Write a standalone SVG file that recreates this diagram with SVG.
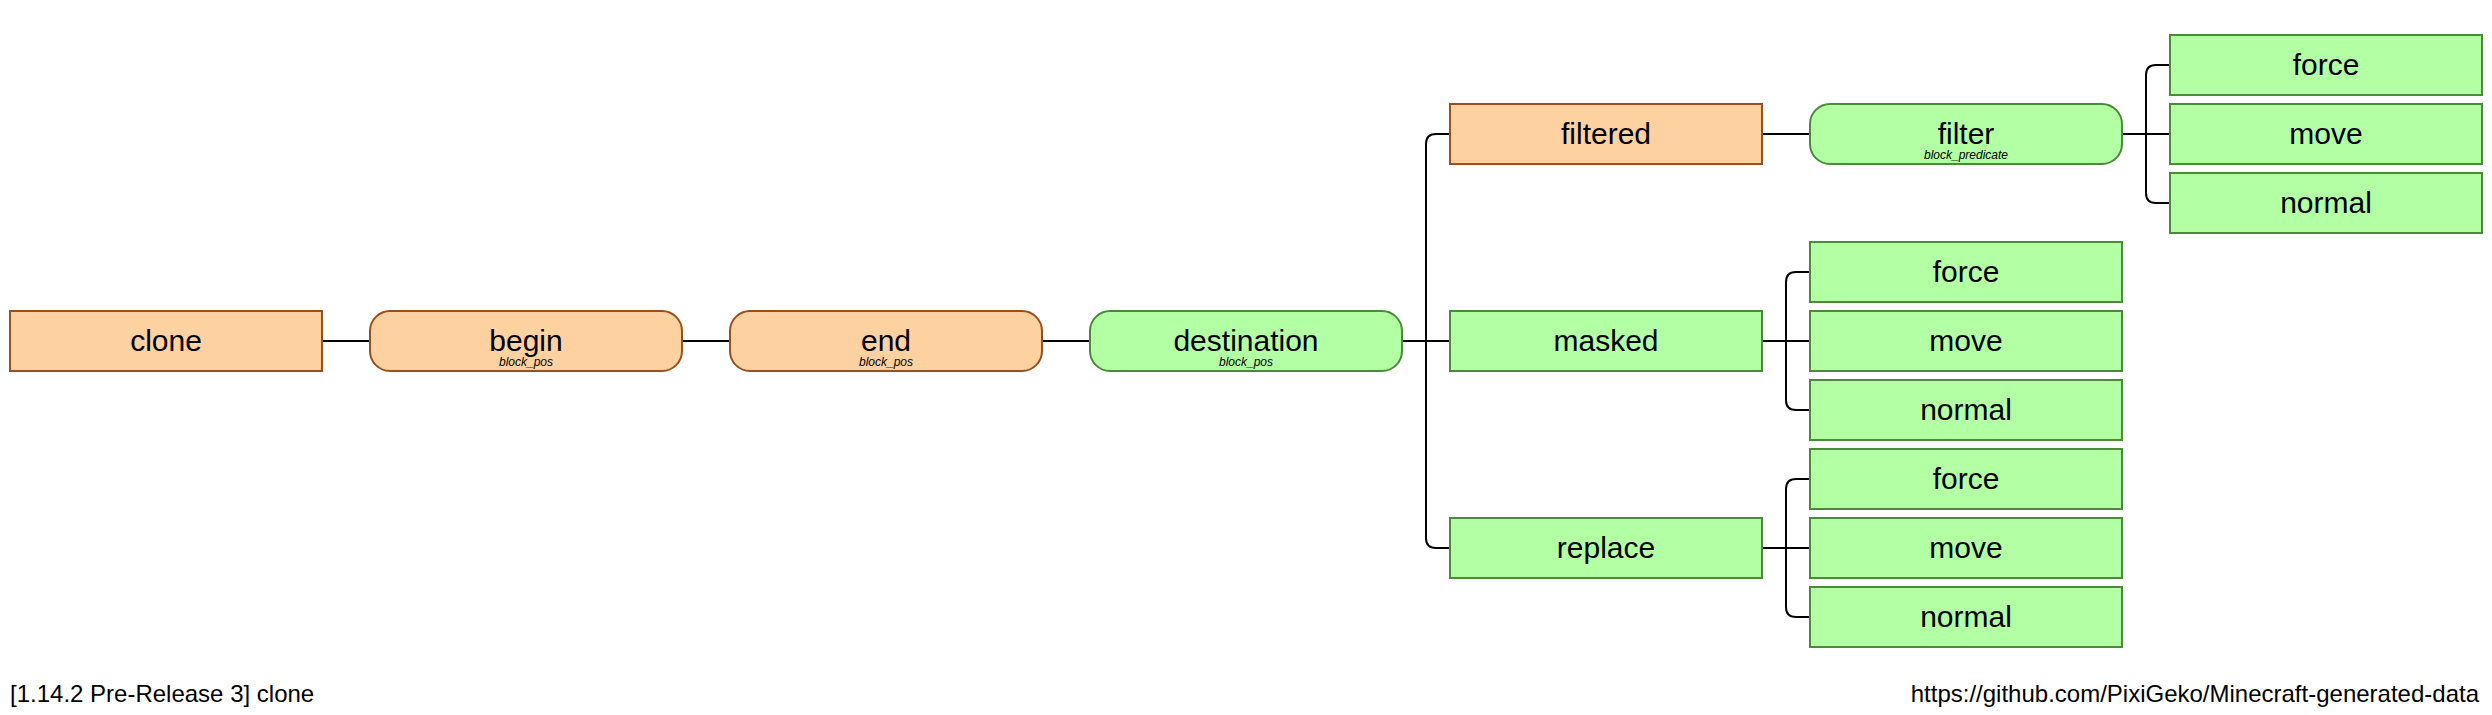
<svg xmlns="http://www.w3.org/2000/svg" width="2492" height="715" viewBox="0 0 2492 715">
<style>
.o{fill:#FED1A0;stroke:#9A4F1C;stroke-width:2}
.g{fill:#B3FFA4;stroke:#4B8A3B;stroke-width:2}
.t{font-family:"Liberation Sans",Arial,sans-serif;font-size:30px;fill:#000;text-anchor:middle}
.s{font-family:"Liberation Sans",Arial,sans-serif;font-size:12px;font-style:italic;fill:#000;text-anchor:middle}
.f{font-family:"Liberation Sans",Arial,sans-serif;font-size:24px;fill:#000}
.c{fill:none;stroke:#000;stroke-width:2}
</style>
<rect width="2492" height="715" fill="#fff"/>
<g id="connectors">
<path class="c" d="M322 341H370M682 341H730M1042 341H1090M1402 341H1450"/>
<path class="c" d="M1450 134H1436Q1426 134 1426 144V538Q1426 548 1436 548H1450"/>
<path class="c" d="M1762 134H1810"/>
<path class="c" d="M2122 134H2170M2170 65H2156Q2146 65 2146 75V193Q2146 203 2156 203H2170"/>
<path class="c" d="M1762 341H1810M1810 272H1796Q1786 272 1786 282V400Q1786 410 1796 410H1810"/>
<path class="c" d="M1762 548H1810M1810 479H1796Q1786 479 1786 489V607Q1786 617 1796 617H1810"/>
</g>
<g id="clone"><rect class="o" x="10" y="311" width="312" height="60"/><text class="t" x="166" y="351">clone</text></g>
<g id="begin"><rect class="o" x="370" y="311" width="312" height="60" rx="20"/><text class="t" x="526" y="351">begin</text><text class="s" x="526" y="366">block_pos</text></g>
<g id="end"><rect class="o" x="730" y="311" width="312" height="60" rx="20"/><text class="t" x="886" y="351">end</text><text class="s" x="886" y="366">block_pos</text></g>
<g id="destination"><rect class="g" x="1090" y="311" width="312" height="60" rx="20"/><text class="t" x="1246" y="351">destination</text><text class="s" x="1246" y="366">block_pos</text></g>
<g id="filtered"><rect class="o" x="1450" y="104" width="312" height="60"/><text class="t" x="1606" y="144">filtered</text></g>
<g id="filter"><rect class="g" x="1810" y="104" width="312" height="60" rx="20"/><text class="t" x="1966" y="144">filter</text><text class="s" x="1966" y="159">block_predicate</text></g>
<g id="filter_force"><rect class="g" x="2170" y="35" width="312" height="60"/><text class="t" x="2326" y="75">force</text></g>
<g id="filter_move"><rect class="g" x="2170" y="104" width="312" height="60"/><text class="t" x="2326" y="144">move</text></g>
<g id="filter_normal"><rect class="g" x="2170" y="173" width="312" height="60"/><text class="t" x="2326" y="213">normal</text></g>
<g id="masked"><rect class="g" x="1450" y="311" width="312" height="60"/><text class="t" x="1606" y="351">masked</text></g>
<g id="masked_force"><rect class="g" x="1810" y="242" width="312" height="60"/><text class="t" x="1966" y="282">force</text></g>
<g id="masked_move"><rect class="g" x="1810" y="311" width="312" height="60"/><text class="t" x="1966" y="351">move</text></g>
<g id="masked_normal"><rect class="g" x="1810" y="380" width="312" height="60"/><text class="t" x="1966" y="420">normal</text></g>
<g id="replace"><rect class="g" x="1450" y="518" width="312" height="60"/><text class="t" x="1606" y="558">replace</text></g>
<g id="replace_force"><rect class="g" x="1810" y="449" width="312" height="60"/><text class="t" x="1966" y="489">force</text></g>
<g id="replace_move"><rect class="g" x="1810" y="518" width="312" height="60"/><text class="t" x="1966" y="558">move</text></g>
<g id="replace_normal"><rect class="g" x="1810" y="587" width="312" height="60"/><text class="t" x="1966" y="627">normal</text></g>
<text class="f" x="10" y="702">[1.14.2 Pre-Release 3] clone</text>
<text class="f" x="2479" y="702" text-anchor="end">https://github.com/PixiGeko/Minecraft-generated-data</text>
</svg>
